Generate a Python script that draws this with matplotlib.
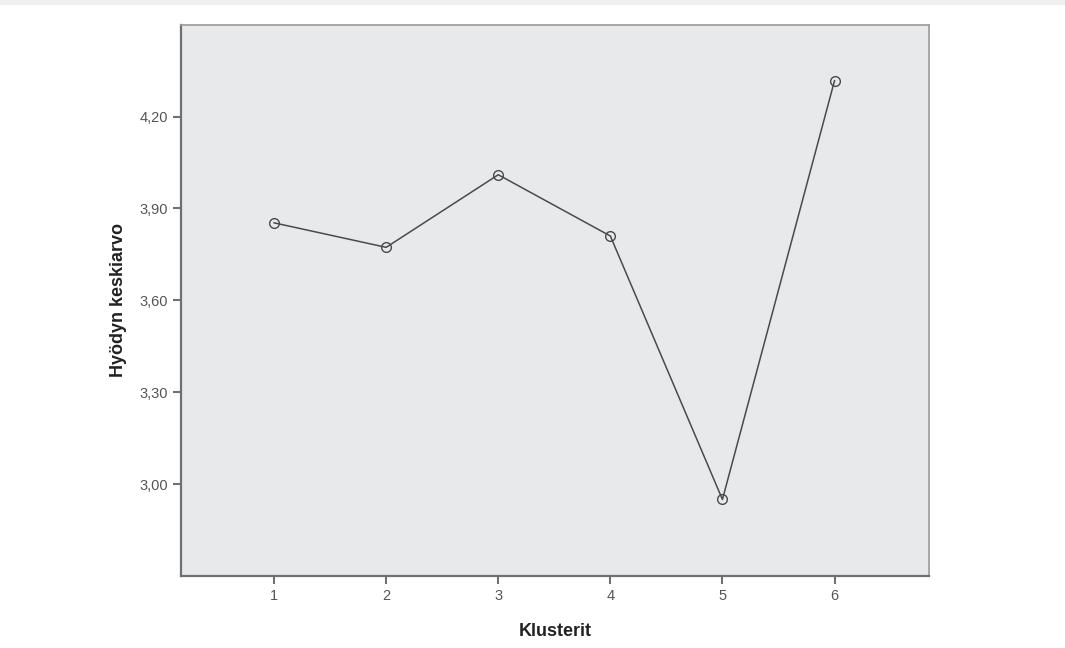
import matplotlib
matplotlib.use('Agg')
import matplotlib.pyplot as plt
from matplotlib.ticker import FuncFormatter

plt.rcParams['font.family'] = ['Liberation Sans', 'DejaVu Sans']

# cluster means
clusters = [1, 2, 3, 4, 5, 6]
means    = [3.853, 3.773, 4.010, 3.810, 2.950, 4.317]
yticks   = [3.00, 3.30, 3.60, 3.90, 4.20]

fig = plt.figure(figsize=(10.65, 6.48), dpi=100)
fig.patch.set_facecolor('white')
# faint grey strip at the very top of the screenshot
fig.add_artist(plt.Rectangle((0, 0.992), 1, 0.008, transform=fig.transFigure,
                             color='#efefef', lw=0))

ax = fig.add_axes([0.170, 0.111, 0.702, 0.851])
ax.set_facecolor('#e8e9eb')

ax.plot(clusters, means, '-', color='#4a4a4a', lw=1.1,
        marker='o', ms=7, mfc='none', mec='#4a4a4a', mew=1.0)

ax.set_xlim(0.17, 6.84)
ax.set_ylim(2.70, 4.50)
ax.set_xticks(clusters)
ax.set_yticks(yticks)
ax.yaxis.set_major_formatter(FuncFormatter(lambda v, p: f"{v:.2f}".replace('.', ',')))

for s in ['left', 'bottom']:
    ax.spines[s].set_color('#707070')
    ax.spines[s].set_linewidth(1.6)
for s in ['top', 'right']:
    ax.spines[s].set_color('#9a9a9a')
    ax.spines[s].set_linewidth(1.2)
ax.tick_params(axis='both', direction='out', length=6, width=1.5,
               color='#707070', labelcolor='#555555', labelsize=10.5)
ax.tick_params(top=False, right=False)

ax.set_xlabel("Klusterit", fontsize=13, fontweight='bold', color='#222222',
              labelpad=14)
ax.set_ylabel("Hyödyn keskiarvo", fontsize=13, fontweight='bold',
              color='#222222', labelpad=9)

fig.savefig("out.png", dpi=100)
